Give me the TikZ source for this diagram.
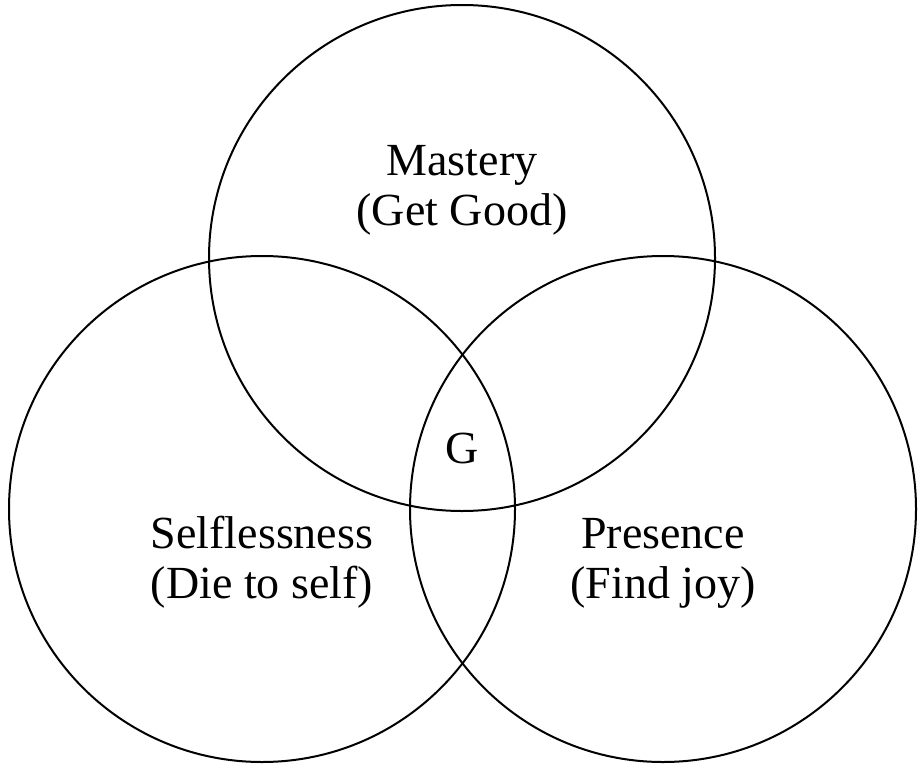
\documentclass[tikz,border=0pt]{standalone}
\usepackage{fontspec}
\setmainfont{Liberation Serif}
\usepackage{tikz}
\usetikzlibrary{positioning}
\tikzset{
    ring/.style={circle, draw, line width=2pt, minimum size=506pt, inner sep=0pt},
    label/.style={font=\fontsize{46}{50}\selectfont, align=center, inner sep=0pt, anchor=base},
}

\begin{document}
\begin{tikzpicture}[x=1pt, y=-1pt]
\useasboundingbox (0,0) rectangle (918,768);

% The three circles
\node[ring] (mastery) at (462, 258) {};
\node[ring] (selfless) at (262, 509) {};
\node[ring] (presence) at (663, 509) {};

% Circle labels (anchored at the last baseline)
\node[label] (mtext) at (462, 225) {Mastery\\(Get Good)};
\node[label] (stext) at (262, 598) {Selflessness\\(Die to self)};
\node[label] (ptext) at (663, 598) {Presence\\(Find joy)};
\node[label] (gtext) at (462, 463) {G};

\end{tikzpicture}
\end{document}
